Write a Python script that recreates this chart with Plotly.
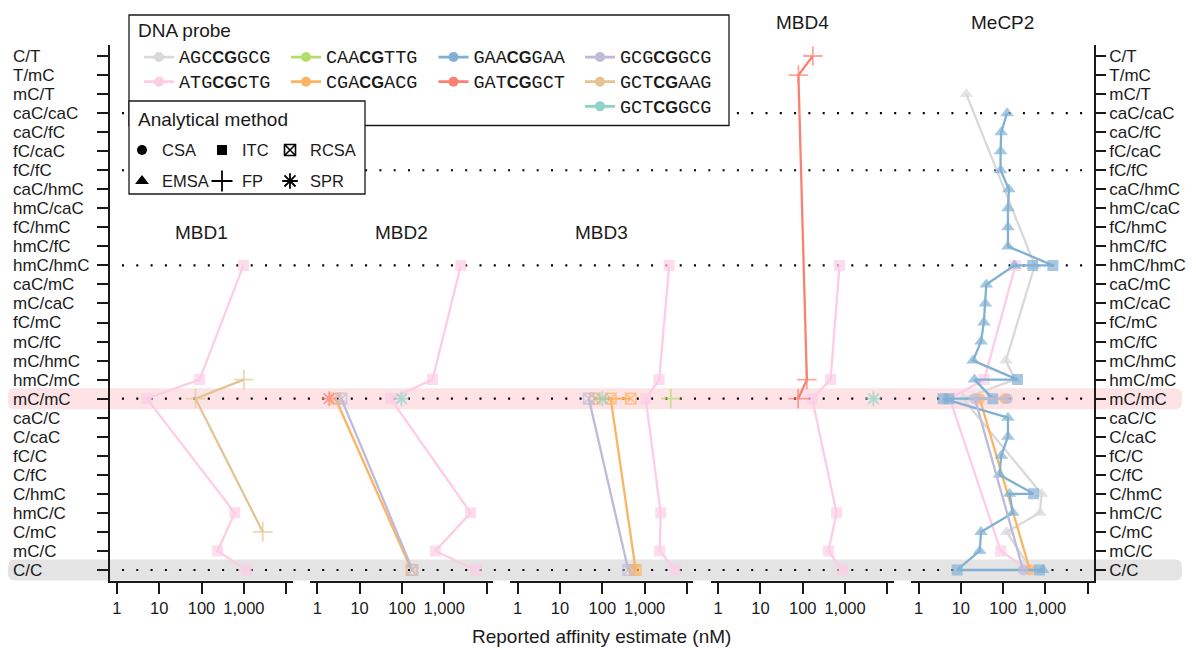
import plotly.graph_objects as go

W, H = 1196, 648

# ---------------- data ----------------
ROWS = ["C/T", "T/mC", "mC/T", "caC/caC", "caC/fC", "fC/caC", "fC/fC",
        "caC/hmC", "hmC/caC", "fC/hmC", "hmC/fC", "hmC/hmC", "caC/mC",
        "mC/caC", "fC/mC", "mC/fC", "mC/hmC", "hmC/mC", "mC/mC", "caC/C",
        "C/caC", "fC/C", "C/fC", "C/hmC", "hmC/C", "C/mC", "mC/C", "C/C"]
DOTTED_ROWS = ["caC/caC", "fC/fC", "hmC/hmC", "mC/mC", "C/C"]
BAND_ROWS = ["mC/mC", "C/C"]

PANELS = ["MBD1", "MBD2", "MBD3", "MBD4", "MeCP2"]
X_TICKVALS = [1, 10, 100, 1000, 10000]
X_TICKTEXT = ["1", "10", "100", "1,000", ""]

PROBES = ["AGCCGGCG", "ATGCGCTG", "CAACGTTG", "CGACGACG", "GAACGGAA",
          "GATCGGCT", "GCGCGGCG", "GCTCGAAG", "GCTCGGCG"]
METHODS = ["CSA", "EMSA", "ITC", "FP", "RCSA", "SPR"]

# MBD1
MBD1_ATG_rows = ["hmC/hmC", "hmC/mC", "mC/mC", "hmC/C", "mC/C", "C/C"]
MBD1_ATG_nM = [980, 90, 5.1, 610, 240, 1150]
MBD1_ATG_meth = ["ITC", "ITC", "ITC", "ITC", "ITC", "ITC"]
MBD1_GCTAAG_rows = ["hmC/mC", "mC/mC", "C/mC"]
MBD1_GCTAAG_nM = [1000, 72, 2800]
MBD1_GCTAAG_meth = ["FP", "FP", "FP"]

# MBD2
MBD2_ATG_rows = ["hmC/hmC", "hmC/mC", "mC/mC", "hmC/C", "mC/C", "C/C"]
MBD2_ATG_nM = [2460, 530, 54, 4200, 620, 5600]
MBD2_ATG_meth = ["ITC", "ITC", "ITC", "ITC", "ITC", "ITC"]
MBD2_CGA_rows = ["mC/mC", "C/C"]
MBD2_CGA_nM = [2.7, 168]
MBD2_CGA_meth = ["RCSA", "RCSA"]
MBD2_GAT_rows = ["mC/mC"]
MBD2_GAT_nM = [1.9]
MBD2_GAT_meth = ["SPR"]
MBD2_GCG_rows = ["mC/mC", "C/C"]
MBD2_GCG_nM = [3.7, 178]
MBD2_GCG_meth = ["RCSA", "RCSA"]
MBD2_GCTGCG_rows = ["mC/mC"]
MBD2_GCTGCG_nM = [98]
MBD2_GCTGCG_meth = ["SPR"]

# MBD3
MBD3_ATG_rows = ["hmC/hmC", "hmC/mC", "mC/mC", "hmC/C", "mC/C", "C/C"]
MBD3_ATG_nM = [3800, 2200, 1060, 2400, 2270, 5250]
MBD3_ATG_meth = ["ITC", "ITC", "ITC", "ITC", "ITC", "ITC"]
MBD3_CAA_rows = ["mC/mC"]
MBD3_CAA_nM = [4150]
MBD3_CAA_meth = ["FP"]
MBD3_CGA_rows = ["mC/mC", "mC/mC", "mC/mC", "C/C", "C/C"]
MBD3_CGA_nM = [66, 470, 158, 615, 560]
MBD3_CGA_meth = ["RCSA", "RCSA", "RCSA", "RCSA", "ITC"]
MBD3_GCG_rows = ["mC/mC", "C/C"]
MBD3_GCG_nM = [48, 410]
MBD3_GCG_meth = ["RCSA", "RCSA"]
MBD3_GCTGCG_rows = ["mC/mC"]
MBD3_GCTGCG_nM = [100]
MBD3_GCTGCG_meth = ["SPR"]

# MBD4
MBD4_ATG_rows = ["hmC/hmC", "hmC/mC", "mC/mC", "hmC/C", "mC/C", "C/C"]
MBD4_ATG_nM = [740, 455, 167, 630, 405, 875]
MBD4_ATG_meth = ["ITC", "ITC", "ITC", "ITC", "ITC", "ITC"]
MBD4_GAT_rows = ["C/T", "T/mC", "hmC/mC", "mC/mC"]
MBD4_GAT_nM = [173, 79, 125, 78]
MBD4_GAT_meth = ["FP", "FP", "FP", "FP"]
MBD4_GCTGCG_rows = ["mC/mC"]
MBD4_GCTGCG_nM = [4700]
MBD4_GCTGCG_meth = ["SPR"]

# MeCP2
MECP2_AGC_rows = ["mC/T", "hmC/hmC", "mC/hmC", "hmC/mC", "mC/mC", "C/hmC",
                  "hmC/C", "C/mC", "C/C"]
MECP2_AGC_nM = [13.5, 560, 116, 190, 11.3, 810, 740, 120, 470]
MECP2_AGC_meth = ["EMSA", "EMSA", "EMSA", "EMSA", "EMSA", "EMSA", "EMSA",
                  "EMSA", "EMSA"]
MECP2_ATG_rows = ["hmC/hmC", "hmC/mC", "mC/mC", "mC/C", "C/C"]
MECP2_ATG_nM = [196, 35.6, 5.5, 88, 390]
MECP2_ATG_meth = ["ITC", "ITC", "ITC", "ITC", "ITC"]
MECP2_CGA_rows = ["mC/mC", "mC/mC", "C/C"]
MECP2_CGA_nM = [110, 28, 430]
MECP2_CGA_meth = ["CSA", "CSA", "CSA"]
MECP2_GAA_rows = ["caC/caC", "caC/fC", "fC/caC", "fC/fC", "caC/hmC",
                  "hmC/caC", "fC/hmC", "hmC/fC", "hmC/hmC", "hmC/hmC",
                  "hmC/hmC", "caC/mC", "mC/caC", "fC/mC", "mC/fC", "mC/hmC",
                  "hmC/mC", "hmC/mC", "mC/mC", "mC/mC", "mC/mC", "caC/C",
                  "C/caC", "fC/C", "C/fC", "C/hmC", "C/hmC", "hmC/C", "C/mC",
                  "mC/C", "C/C", "C/C", "C/C"]
MECP2_GAA_nM = [124, 90, 87, 87, 137, 130, 130, 130, 1500, 500, 186, 40, 38,
                35, 30, 19.5, 219, 21, 57, 5.2, 3.8, 130, 130, 90, 82, 525,
                142, 170, 30, 28, 8.2, 725, 870]
MECP2_GAA_meth = ["EMSA", "EMSA", "EMSA", "EMSA", "EMSA", "EMSA", "EMSA",
                  "EMSA", "ITC", "ITC", "EMSA", "EMSA", "EMSA", "EMSA",
                  "EMSA", "EMSA", "ITC", "EMSA", "ITC", "ITC", "ITC", "EMSA",
                  "EMSA", "EMSA", "EMSA", "ITC", "EMSA", "EMSA", "EMSA",
                  "EMSA", "ITC", "ITC", "EMSA"]
MECP2_GCG_rows = ["mC/mC", "mC/mC", "C/C"]
MECP2_GCG_nM = [127, 21.5, 297]
MECP2_GCG_meth = ["CSA", "CSA", "CSA"]

SERIES = [
    ("MBD1", "ATGCGCTG", MBD1_ATG_rows, MBD1_ATG_nM, MBD1_ATG_meth),
    ("MBD1", "GCTCGAAG", MBD1_GCTAAG_rows, MBD1_GCTAAG_nM, MBD1_GCTAAG_meth),
    ("MBD2", "ATGCGCTG", MBD2_ATG_rows, MBD2_ATG_nM, MBD2_ATG_meth),
    ("MBD2", "CGACGACG", MBD2_CGA_rows, MBD2_CGA_nM, MBD2_CGA_meth),
    ("MBD2", "GATCGGCT", MBD2_GAT_rows, MBD2_GAT_nM, MBD2_GAT_meth),
    ("MBD2", "GCGCGGCG", MBD2_GCG_rows, MBD2_GCG_nM, MBD2_GCG_meth),
    ("MBD2", "GCTCGGCG", MBD2_GCTGCG_rows, MBD2_GCTGCG_nM, MBD2_GCTGCG_meth),
    ("MBD3", "ATGCGCTG", MBD3_ATG_rows, MBD3_ATG_nM, MBD3_ATG_meth),
    ("MBD3", "CAACGTTG", MBD3_CAA_rows, MBD3_CAA_nM, MBD3_CAA_meth),
    ("MBD3", "CGACGACG", MBD3_CGA_rows, MBD3_CGA_nM, MBD3_CGA_meth),
    ("MBD3", "GCGCGGCG", MBD3_GCG_rows, MBD3_GCG_nM, MBD3_GCG_meth),
    ("MBD3", "GCTCGGCG", MBD3_GCTGCG_rows, MBD3_GCTGCG_nM, MBD3_GCTGCG_meth),
    ("MBD4", "ATGCGCTG", MBD4_ATG_rows, MBD4_ATG_nM, MBD4_ATG_meth),
    ("MBD4", "GATCGGCT", MBD4_GAT_rows, MBD4_GAT_nM, MBD4_GAT_meth),
    ("MBD4", "GCTCGGCG", MBD4_GCTGCG_rows, MBD4_GCTGCG_nM, MBD4_GCTGCG_meth),
    ("MeCP2", "AGCCGGCG", MECP2_AGC_rows, MECP2_AGC_nM, MECP2_AGC_meth),
    ("MeCP2", "ATGCGCTG", MECP2_ATG_rows, MECP2_ATG_nM, MECP2_ATG_meth),
    ("MeCP2", "CGACGACG", MECP2_CGA_rows, MECP2_CGA_nM, MECP2_CGA_meth),
    ("MeCP2", "GAACGGAA", MECP2_GAA_rows, MECP2_GAA_nM, MECP2_GAA_meth),
    ("MeCP2", "GCGCGGCG", MECP2_GCG_rows, MECP2_GCG_nM, MECP2_GCG_meth),
]

# ---------------- styles ----------------
PROBE_COLORS = {"AGCCGGCG": "#d9d9d9", "ATGCGCTG": "#fccde5",
                "CAACGTTG": "#b3de69", "CGACGACG": "#fdb462",
                "GAACGGAA": "#80b1d3", "GATCGGCT": "#fb8072",
                "GCGCGGCG": "#bebada", "GCTCGAAG": "#e5c494",
                "GCTCGGCG": "#8dd3c7"}
METHOD_SYMBOL = {"CSA": "circle", "EMSA": "triangle-up", "ITC": "square",
                 "FP": "cross-thin-open", "RCSA": "square-x-open",
                 "SPR": "asterisk-open"}
METHOD_SIZE = {"CSA": 11, "EMSA": 12, "ITC": 11, "FP": 14, "RCSA": 10.5,
               "SPR": 12.5}
METHOD_LW = {"CSA": 0, "EMSA": 0, "ITC": 0, "FP": 1.8, "RCSA": 1.6,
             "SPR": 1.8}
LEGEND_SIZE = {"CSA": 10, "EMSA": 12, "ITC": 10, "FP": 15, "RCSA": 11,
               "SPR": 13}
SANS = "Liberation Sans"
MONO = "Liberation Mono"
INK = "#1a1a1a"
TICK_FS = 17

# geometry (px)
PANEL_L0, PANEL_PITCH, PANEL_W = 109.5, 200.4, 183.0
X_RANGE = [-0.175, 4.15]
Y_TOP_PX, Y_BOT_PX = 44.6, 581.4
Y_RANGE = [len(ROWS) - 1 + 0.6, -0.6]
PANEL_TITLE_Y = [233, 233, 233, 22, 22]


def px_x(p):
    return p / W


def px_y(p):
    return 1 - p / H


def row_px(r):
    return Y_TOP_PX + (r - Y_RANGE[1]) / (Y_RANGE[0] - Y_RANGE[1]) * (Y_BOT_PX - Y_TOP_PX)


ydom = [px_y(Y_BOT_PX), px_y(Y_TOP_PX)]

fig = go.Figure()

# data traces (drawn in probe order)
for probe in PROBES:
    for panel, pr, rows, vals, meths in SERIES:
        if pr != probe:
            continue
        k = PANELS.index(panel) + 1
        col = PROBE_COLORS[pr]
        fig.add_trace(go.Scatter(
            x=vals, y=[ROWS.index(r) for r in rows],
            xaxis="x" if k == 1 else f"x{k}", yaxis="y" if k == 1 else f"y{k}",
            mode="lines+markers", line=dict(color=col, width=2.3),
            marker=dict(color=col, symbol=[METHOD_SYMBOL[m] for m in meths],
                        size=[METHOD_SIZE[m] for m in meths],
                        line=dict(color=col, width=[METHOD_LW[m] for m in meths])),
            legendgroup=pr, showlegend=False,
            hovertemplate=f"{panel} {pr}<br>%{{x}} nM<extra></extra>"))

# legend entries: probes (4 columns) and methods (3 columns)
DNA_COLS = [["AGCCGGCG", "ATGCGCTG"], ["CAACGTTG", "CGACGACG"],
            ["GAACGGAA", "GATCGGCT"], ["GCGCGGCG", "GCTCGAAG", "GCTCGGCG"]]
METH_COLS = [["CSA", "EMSA"], ["ITC", "FP"], ["RCSA", "SPR"]]
DNA_COL_X = [159, 306, 453.5, 600]
DNA_ROW1_Y = 57
METH_COL_X = [142, 222, 290]
METH_ROW1_Y = 150


def probe_label(p):
    sp = f'<span style="font-family:{MONO};font-size:18.5px">'
    return f"{sp}{p[:3]}</span><b>{p[3:5]}</b>{sp}{p[5:]}</span>"


legends = {}
lg = 1
for ci, colp in enumerate(DNA_COLS):
    name = "legend" if lg == 1 else f"legend{lg}"
    for p in colp:
        fig.add_trace(go.Scatter(
            x=[None], y=[None], mode="lines+markers", name=probe_label(p),
            line=dict(color=PROBE_COLORS[p], width=2.8),
            marker=dict(color=PROBE_COLORS[p], symbol="circle", size=10),
            legend=name, legendgroup=p, showlegend=True))
    legends[name] = dict(x=px_x(DNA_COL_X[ci] - 20), y=px_y(DNA_ROW1_Y - 17.2),
                         xanchor="left", yanchor="top", tracegroupgap=0.2)
    lg += 1
for ci, colm in enumerate(METH_COLS):
    name = f"legend{lg}"
    for m in colm:
        fig.add_trace(go.Scatter(
            x=[None], y=[None], mode="markers", name=m,
            marker=dict(color="black", symbol=METHOD_SYMBOL[m],
                        size=LEGEND_SIZE[m],
                        line=dict(color="black", width=METHOD_LW[m])),
            legend=name, legendgroup="m_" + m, showlegend=True))
    legends[name] = dict(x=px_x(METH_COL_X[ci] - 20), y=px_y(METH_ROW1_Y - 17.2),
                         xanchor="left", yanchor="top", tracegroupgap=6.5)
    lg += 1

for name, d in legends.items():
    d.update(bgcolor="rgba(0,0,0,0)", borderwidth=0, traceorder="grouped",
             font=dict(family=SANS, size=16.5, color=INK), itemclick=False,
             itemdoubleclick=False)
    fig.update_layout({name: d})

# helper trace for the left label axis
fig.add_trace(go.Scatter(x=[None], y=[None], xaxis="x", yaxis="y6",
                         showlegend=False, hoverinfo="skip"))

# axes
for k in range(1, 6):
    L = PANEL_L0 + (k - 1) * PANEL_PITCH
    xa = dict(domain=[px_x(L), px_x(L + PANEL_W)], type="log", range=X_RANGE,
              tickvals=X_TICKVALS, ticktext=X_TICKTEXT, ticks="outside",
              ticklen=11, tickwidth=1.5, tickcolor=INK, showline=True,
              linewidth=1.6, linecolor=INK, showgrid=False, zeroline=False,
              anchor="y" if k == 1 else f"y{k}",
              tickfont=dict(family=SANS, size=16.5, color=INK), fixedrange=True)
    ya = dict(domain=ydom, range=Y_RANGE, anchor="x" if k == 1 else f"x{k}",
              tickvals=list(range(len(ROWS))), ticktext=ROWS, showgrid=False,
              zeroline=False, fixedrange=True,
              tickfont=dict(family=SANS, size=TICK_FS, color=INK))
    if k == 1:
        ya.update(showline=True, linewidth=1.6, linecolor=INK, ticks="outside",
                  ticklen=11, tickwidth=1.5, tickcolor=INK, showticklabels=False)
    elif k == 5:
        ya.update(side="right", showline=True, linewidth=1.6, linecolor=INK,
                  ticks="outside", ticklen=10, tickwidth=1.5, tickcolor=INK,
                  showticklabels=True, matches="y")
    else:
        ya.update(visible=False, matches="y")
    fig.update_layout({("xaxis" if k == 1 else f"xaxis{k}"): xa,
                       ("yaxis" if k == 1 else f"yaxis{k}"): ya})

# left tick labels (left aligned) on a free right-side axis
fig.update_layout(yaxis6=dict(overlaying="y", side="right", anchor="free",
                              position=px_x(12), range=Y_RANGE,
                              tickvals=list(range(len(ROWS))), ticktext=ROWS,
                              showline=False, ticks="", showgrid=False,
                              zeroline=False, fixedrange=True,
                              tickfont=dict(family=SANS, size=TICK_FS, color=INK)))

shapes = []
# highlighted bands (rounded)
BAND_FILL = {"mC/mC": "#fde3e6", "C/C": "#e4e4e4"}
for r in BAND_ROWS:
    i = ROWS.index(r)
    yc = row_px(i)
    x0, x1 = px_x(8), px_x(1182)
    y0, y1 = px_y(yc + 10.5), px_y(yc - 10.5)
    rx, ry = 7 / W, 7 / H
    path = (f"M{x0+rx},{y0} L{x1-rx},{y0} Q{x1},{y0} {x1},{y0+ry} "
            f"L{x1},{y1-ry} Q{x1},{y1} {x1-rx},{y1} L{x0+rx},{y1} "
            f"Q{x0},{y1} {x0},{y1-ry} L{x0},{y0+ry} Q{x0},{y0} {x0+rx},{y0} Z")
    shapes.append(dict(type="path", xref="paper", yref="paper", path=path,
                       fillcolor=BAND_FILL[r], line=dict(width=0), layer="below"))
# dotted reference rows
for r in DOTTED_ROWS:
    yp = px_y(row_px(ROWS.index(r)))
    shapes.append(dict(type="line", xref="paper", yref="paper",
                       x0=px_x(122), x1=px_x(1084), y0=yp, y1=yp,
                       line=dict(color="black", width=2.2, dash="2px,12.3px"),
                       layer="below"))
# legend boxes
shapes.append(dict(type="rect", xref="paper", yref="paper",
                   x0=px_x(129), x1=px_x(729), y0=px_y(125.5), y1=px_y(15),
                   fillcolor="white", line=dict(color=INK, width=1.3),
                   layer="above"))
shapes.append(dict(type="rect", xref="paper", yref="paper",
                   x0=px_x(129), x1=px_x(365), y0=px_y(194), y1=px_y(101),
                   fillcolor="white", line=dict(color=INK, width=1.3),
                   layer="above"))

annotations = []
for k, (p, ty) in enumerate(zip(PANELS, PANEL_TITLE_Y), start=1):
    annotations.append(dict(text=p, xref=("x" if k == 1 else f"x{k}") + " domain",
                            x=0.5, yref="paper", y=px_y(ty), showarrow=False,
                            xanchor="center", yanchor="middle",
                            font=dict(family=SANS, size=19, color=INK)))
annotations.append(dict(text="Reported affinity estimate (nM)", xref="x3 domain",
                        x=0.5, yref="paper", y=px_y(636), showarrow=False,
                        xanchor="center", yanchor="middle",
                        font=dict(family=SANS, size=19, color=INK)))
annotations.append(dict(text="DNA probe", xref="paper", yref="paper",
                        x=px_x(136), y=px_y(31), xanchor="left", yanchor="middle",
                        showarrow=False, font=dict(family=SANS, size=19, color=INK)))
annotations.append(dict(text="Analytical method", xref="paper", yref="paper",
                        x=px_x(136), y=px_y(120), xanchor="left", yanchor="middle",
                        showarrow=False, font=dict(family=SANS, size=19, color=INK)))

fig.update_layout(width=W, height=H, margin=dict(l=0, r=0, t=0, b=0),
                  paper_bgcolor="white", plot_bgcolor="rgba(0,0,0,0)",
                  showlegend=True, shapes=shapes, annotations=annotations,
                  font=dict(family=SANS, size=16.5, color=INK),
                  hovermode="closest")

fig.write_html("out.html", config={"displayModeBar": False},
               post_script="document.body.style.margin='0px';"
                           "document.body.style.overflow='hidden';")
